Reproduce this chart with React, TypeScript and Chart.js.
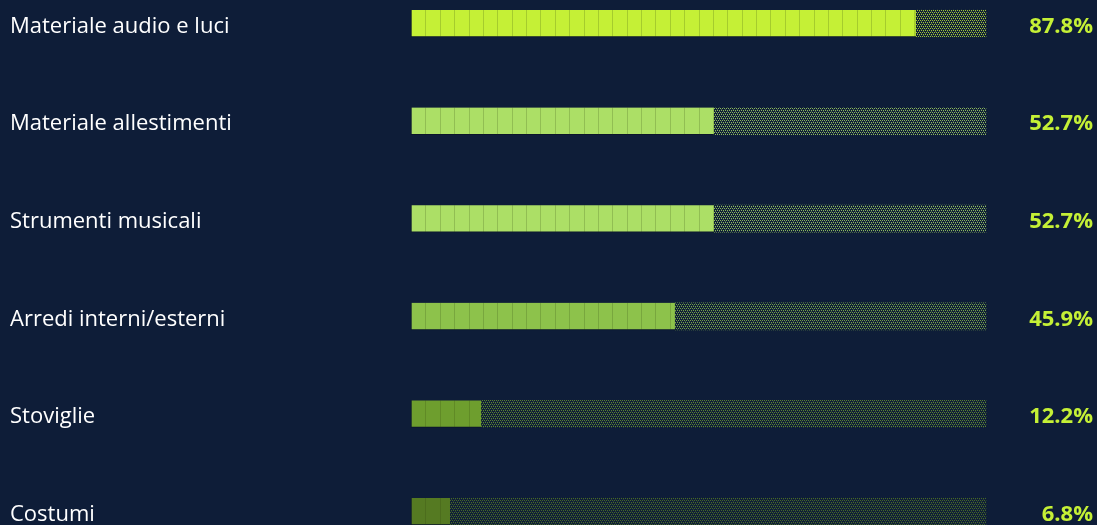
import React, { useEffect, useRef } from "react";
import { Chart, registerables } from "chart.js";

Chart.register(...registerables);

const categories = [
  "Materiale audio e luci",
  "Materiale allestimenti",
  "Strumenti musicali",
  "Arredi interni/esterni",
  "Stoviglie",
  "Costumi",
];
const values = [87.8, 52.7, 52.7, 45.9, 12.2, 6.8];
const valueLabels = ["87.8%", "52.7%", "52.7%", "45.9%", "12.2%", "6.8%"];
const barColors = ["#c5f036", "#acdf66", "#acdf66", "#8dc24b", "#6e9e2e", "#557a22"];
const BG = "#0e1d38";

function makePattern(color: string): CanvasPattern | string {
  const c = document.createElement("canvas");
  c.width = 4;
  c.height = 4;
  const g = c.getContext("2d");
  if (!g) return color;
  g.fillStyle = BG;
  g.fillRect(0, 0, 4, 4);
  g.fillStyle = color;
  g.globalAlpha = 0.8;
  g.fillRect(0, 0, 1, 1);
  g.fillRect(2, 0, 1, 1);
  g.fillRect(1, 2, 1, 1);
  g.fillRect(3, 2, 1, 1);
  g.globalAlpha = 0.35;
  g.fillRect(1, 1, 1, 1);
  g.fillRect(3, 3, 1, 1);
  const p = g.createPattern(c, "repeat");
  return p || color;
}

const segmentPlugin = {
  id: "segments",
  afterDatasetsDraw(chart: any) {
    const meta = chart.getDatasetMeta(0);
    const xs = chart.scales.x;
    const ctx = chart.ctx;
    ctx.save();
    ctx.strokeStyle = "rgba(40,60,10,0.2)";
    ctx.lineWidth = 1;
    meta.data.forEach((bar: any, i: number) => {
      const v = values[i];
      const half = bar.height / 2;
      for (let k = 1; k * 2.5 < v; k++) {
        const x = Math.round(xs.getPixelForValue(k * 2.5)) + 0.5;
        ctx.beginPath();
        ctx.moveTo(x, bar.y - half);
        ctx.lineTo(x, bar.y + half);
        ctx.stroke();
      }
    });
    ctx.restore();
  },
};

export default function App() {
  const ref = useRef<HTMLCanvasElement>(null);
  useEffect(() => {
    document.body.style.margin = "0";
    document.body.style.background = BG;
    const canvas = ref.current;
    if (!canvas) return;
    const chart = new Chart(canvas, {
      type: "bar",
      data: {
        labels: categories,
        datasets: [
          {
            data: values,
            backgroundColor: barColors,
            borderColor: "rgba(0,0,0,0.25)",
            borderWidth: { left: 1, bottom: 1, top: 0, right: 0 },
            borderSkipped: false,
            barThickness: 27,
            clip: false,
            yAxisID: "y",
          },
          {
            data: values.map((v) => 100 - v),
            backgroundColor: barColors.map((c) => makePattern(c)) as any,
            borderWidth: 0,
            barThickness: 27,
            clip: false,
            yAxisID: "y",
          },
        ],
      },
      options: {
        indexAxis: "y",
        animation: false,
        responsive: false,
        maintainAspectRatio: false,
        layout: { padding: { left: 10, right: 4, top: 23.5, bottom: 13.5 } },
        plugins: { legend: { display: false }, tooltip: { enabled: false } },
        scales: {
          x: { stacked: true, min: 0, max: 100, display: false },
          y: {
            type: "category",
            stacked: true,
            offset: false,
            position: "left",
            grid: { display: false },
            border: { display: false },
            ticks: {
              crossAlign: "far",
              color: "#ffffff",
              padding: 0,
              labelOffset: 3,
              font: { family: "'Open Sans', sans-serif", size: 22 },
            },
            afterFit: (s: any) => {
              s.width = 401;
            },
          },
          y2: {
            type: "category",
            labels: valueLabels,
            offset: false,
            position: "right",
            grid: { display: false },
            border: { display: false },
            ticks: {
              crossAlign: "far",
              color: "#c5f036",
              padding: 0,
              labelOffset: 3,
              font: { family: "'Open Sans', sans-serif", size: 22, weight: "bold" },
            },
            afterFit: (s: any) => {
              s.width = 107;
            },
          },
        },
      },
      plugins: [segmentPlugin],
    } as any);
    return () => chart.destroy();
  }, []);
  return (
    <div style={{ width: 1097, height: 525, background: BG }}>
      <canvas ref={ref} width={1097} height={525} style={{ display: "block" }} />
    </div>
  );
}
